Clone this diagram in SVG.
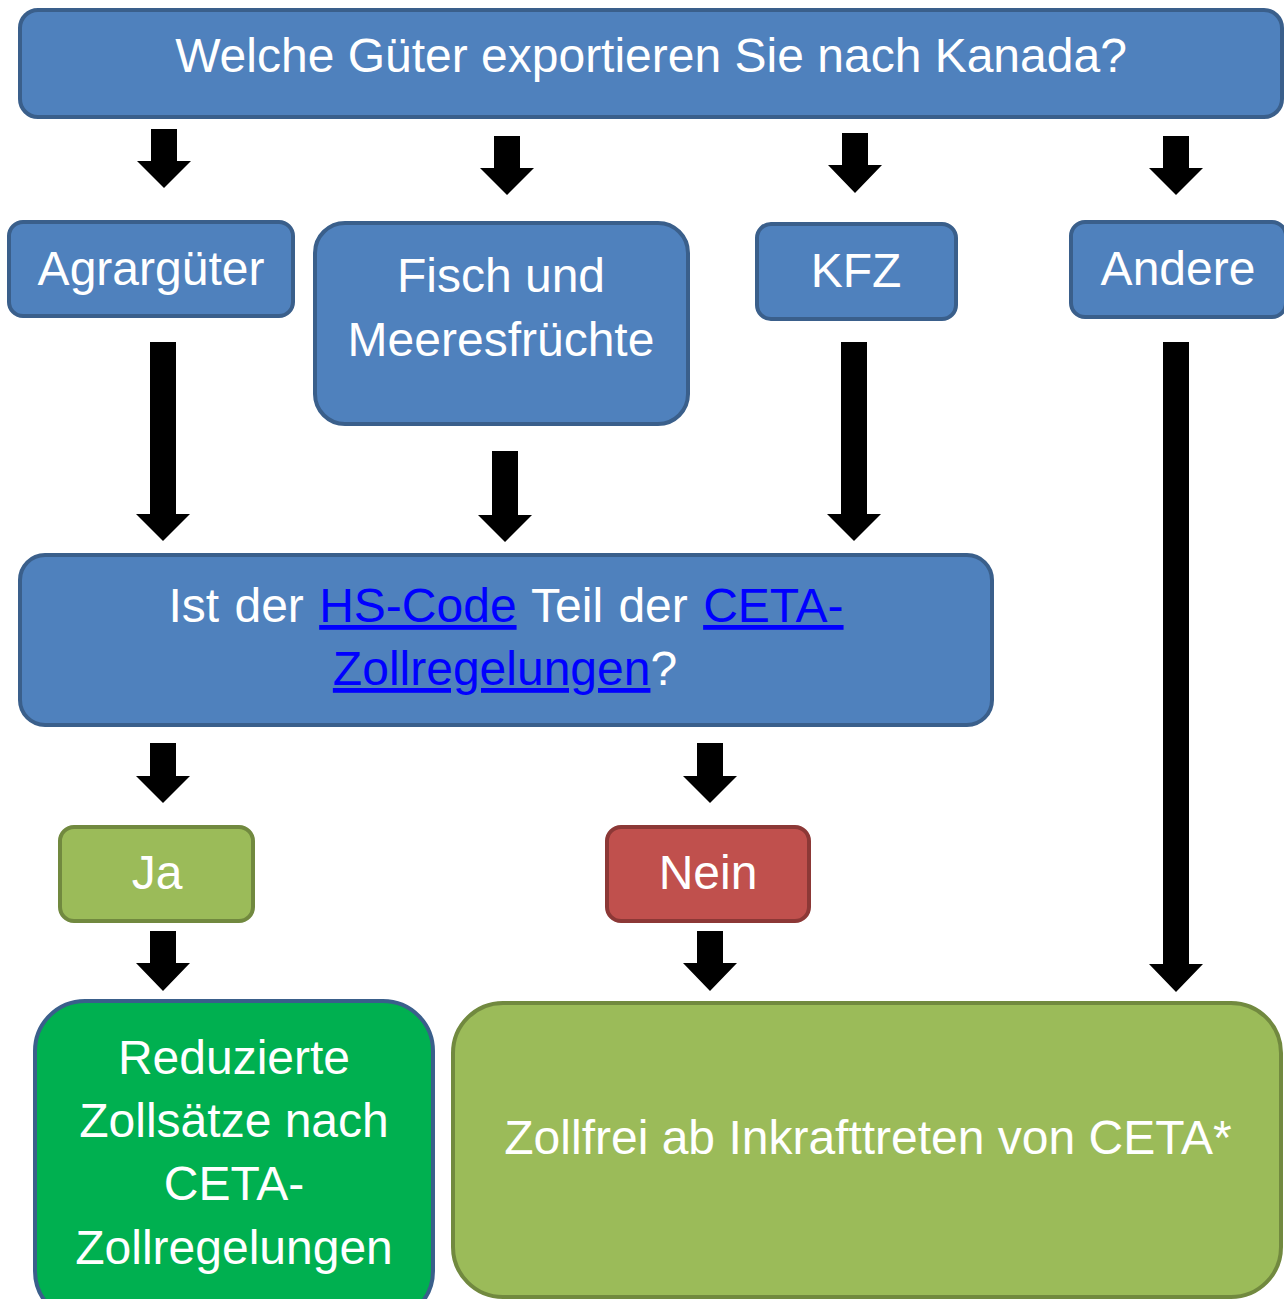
<svg xmlns="http://www.w3.org/2000/svg" width="1284" height="1299" viewBox="0 0 1284 1299">
<style>
.blue{fill:#4f81bd;stroke:#3a5f8b;stroke-width:4}
.olive{fill:#9bbb59;stroke:#71893f;stroke-width:4}
.red{fill:#c0504d;stroke:#8c3836;stroke-width:4}
.green{fill:#00b050;stroke:#3a5f8b;stroke-width:4}
text{font-family:"Liberation Sans",Arial,sans-serif;font-size:48px;fill:#ffffff;text-anchor:middle}
.link{fill:#0000ff;text-decoration:underline}
.arr{fill:#000000}
</style>
<rect width="1284" height="1299" fill="#ffffff"/>
<g id="connectors">
<polygon class="arr" points="151,129 177,129 177,161 191,161 164,188 137,161 151,161"/>
<polygon class="arr" points="494,136 520,136 520,168 534,168 507,195 480,168 494,168"/>
<polygon class="arr" points="842,133 868,133 868,165 882,165 855,193 828,165 842,165"/>
<polygon class="arr" points="1163,136 1189,136 1189,168 1203,168 1176,195 1149,168 1163,168"/>
<polygon class="arr" points="150,342 176,342 176,514 190,514 163,541 136,514 150,514"/>
<polygon class="arr" points="492,451 518,451 518,515 532,515 505,542 478,515 492,515"/>
<polygon class="arr" points="841,342 867,342 867,514 881,514 854,541 827,514 841,514"/>
<polygon class="arr" points="1163,342 1189,342 1189,964 1203,964 1176,992 1149,964 1163,964"/>
<polygon class="arr" points="150,743 176,743 176,776 190,776 163,803 136,776 150,776"/>
<polygon class="arr" points="697,743 723,743 723,776 737,776 710,803 683,776 697,776"/>
<polygon class="arr" points="150,931 176,931 176,963 190,963 163,991 136,963 150,963"/>
<polygon class="arr" points="697,931 723,931 723,963 737,963 710,991 683,963 697,963"/>
</g>
<g id="frage">
<rect class="blue" x="20" y="10" width="1262" height="107" rx="18"/>
<text x="651" y="72">Welche Güter exportieren Sie nach Kanada?</text>
</g>
<g id="agrar">
<rect class="blue" x="9" y="222" width="284" height="94" rx="14"/>
<text x="151" y="285">Agrargüter</text>
</g>
<g id="fisch">
<rect class="blue" x="315" y="223" width="373" height="201" rx="30"/>
<text x="501" y="292">Fisch und</text>
<text x="501" y="356">Meeresfrüchte</text>
</g>
<g id="kfz">
<rect class="blue" x="757" y="224" width="199" height="95" rx="14"/>
<text x="856" y="287">KFZ</text>
</g>
<g id="andere">
<rect class="blue" x="1071" y="222" width="215" height="95" rx="14"/>
<text x="1178" y="285">Andere</text>
</g>
<g id="hscode">
<rect class="blue" x="20" y="555" width="972" height="170" rx="25"/>
<text x="506" y="622" style="word-spacing:2px">Ist der <tspan class="link">HS-Code</tspan> Teil der <tspan class="link">CETA-</tspan></text>
<text x="505" y="685"><tspan class="link">Zollregelungen</tspan>?</text>
</g>
<g id="ja">
<rect class="olive" x="60" y="827" width="193" height="94" rx="14"/>
<text x="157" y="889">Ja</text>
</g>
<g id="nein">
<rect class="red" x="607" y="827" width="202" height="94" rx="14"/>
<text x="708" y="889">Nein</text>
</g>
<g id="reduziert">
<rect class="green" x="35" y="1001" width="398" height="320" rx="50"/>
<text x="234" y="1074">Reduzierte</text>
<text x="234" y="1137">Zollsätze nach</text>
<text x="234" y="1200">CETA-</text>
<text x="234" y="1264">Zollregelungen</text>
</g>
<g id="zollfrei">
<rect class="olive" x="453" y="1003" width="828" height="294" rx="50"/>
<text x="868" y="1154">Zollfrei ab Inkrafttreten von CETA*</text>
</g>
</svg>
